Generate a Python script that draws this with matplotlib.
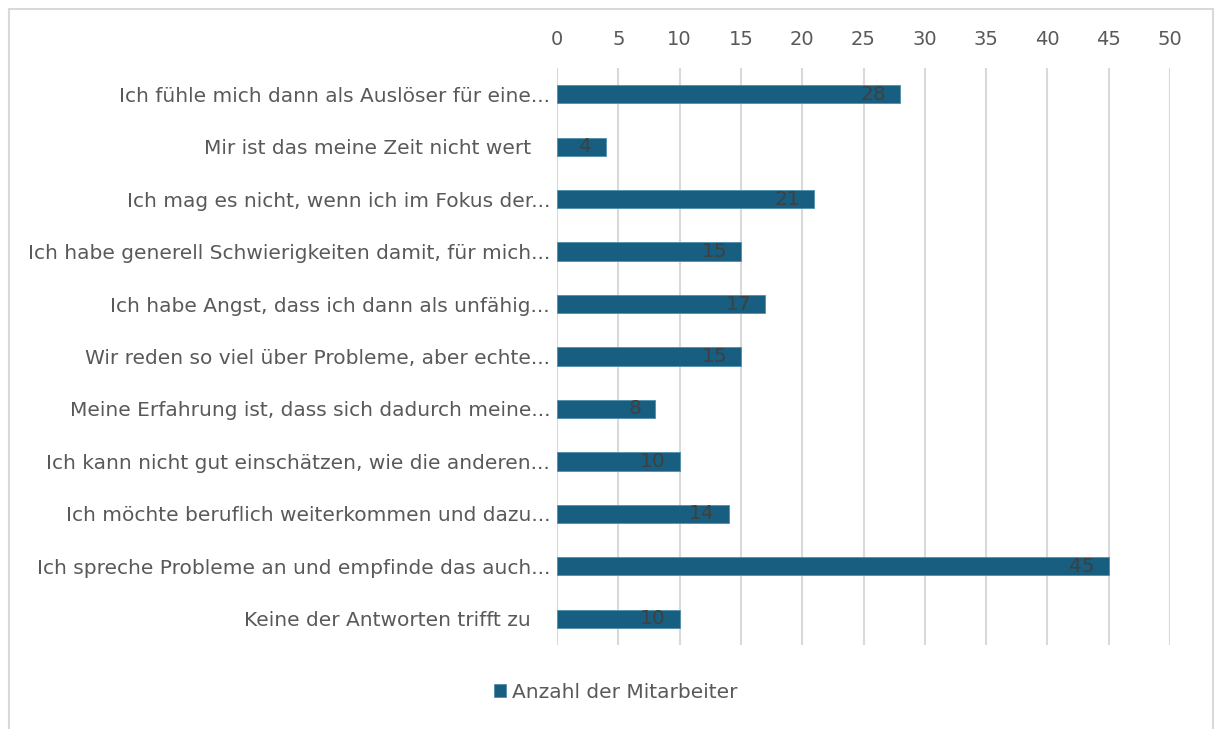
import matplotlib.pyplot as plt
from matplotlib.patches import Rectangle

categories = [
    "Ich fühle mich dann als Auslöser für eine...",
    "Mir ist das meine Zeit nicht wert   ",
    "Ich mag es nicht, wenn ich im Fokus der...",
    "Ich habe generell Schwierigkeiten damit, für mich...",
    "Ich habe Angst, dass ich dann als unfähig...",
    "Wir reden so viel über Probleme, aber echte...",
    "Meine Erfahrung ist, dass sich dadurch meine...",
    "Ich kann nicht gut einschätzen, wie die anderen...",
    "Ich möchte beruflich weiterkommen und dazu...",
    "Ich spreche Probleme an und empfinde das auch...",
    "Keine der Antworten trifft zu   ",
]
values = [28, 4, 21, 15, 17, 15, 8, 10, 14, 45, 10]
series_name = "Anzahl der Mitarbeiter"
xticks = list(range(0, 55, 5))

bar_color = "#175E80"
text_color = "#595959"
grid_color = "#d9d9d9"

plt.rcParams['font.family'] = ['DejaVu Sans']

fig = plt.figure(figsize=(12.19, 7.29), dpi=100)
ax = fig.add_axes([557 / 1219, 1 - 645 / 729, (1170 - 557) / 1219, (645 - 68) / 729])

y = list(range(len(categories)))
bars = ax.barh(y, values, height=0.35, color=bar_color, edgecolor="#4f8fae",
               linewidth=0.6, label=series_name, zorder=3)

for yi, v in zip(y, values):
    ax.annotate(str(v), xy=(v, yi), xytext=(-10, 0), textcoords="offset points",
                ha="right", va="center", fontsize=14.5, color="#404040", zorder=4)

ax.set_xlim(0, 50)
ax.set_ylim(len(categories) - 0.5, -0.5)
ax.set_xticks(xticks)
ax.set_yticks(y)
ax.set_yticklabels(categories)
ax.xaxis.tick_top()
ax.tick_params(axis="x", length=0, pad=14, labelsize=14, labelcolor=text_color)
ax.tick_params(axis="y", length=0, pad=5, labelsize=14.5, labelcolor=text_color)
ax.grid(axis="x", color=grid_color, linewidth=1.5, zorder=0)
for s in ax.spines.values():
    s.set_visible(False)

fig.legend(handles=[bars], labels=[series_name], loc="center",
           bbox_to_anchor=(616 / 1219, 1 - 692 / 729), frameon=False,
           fontsize=14.5, labelcolor=text_color, handlelength=0.6, handleheight=0.6,
           handletextpad=0.3)

fig.patches.append(Rectangle((9 / 1219, -0.05), (1213 - 9) / 1219, 1.05 - 9 / 729,
                             transform=fig.transFigure, fill=False,
                             edgecolor=grid_color, linewidth=1.5))

fig.savefig("out.png", dpi=100)
